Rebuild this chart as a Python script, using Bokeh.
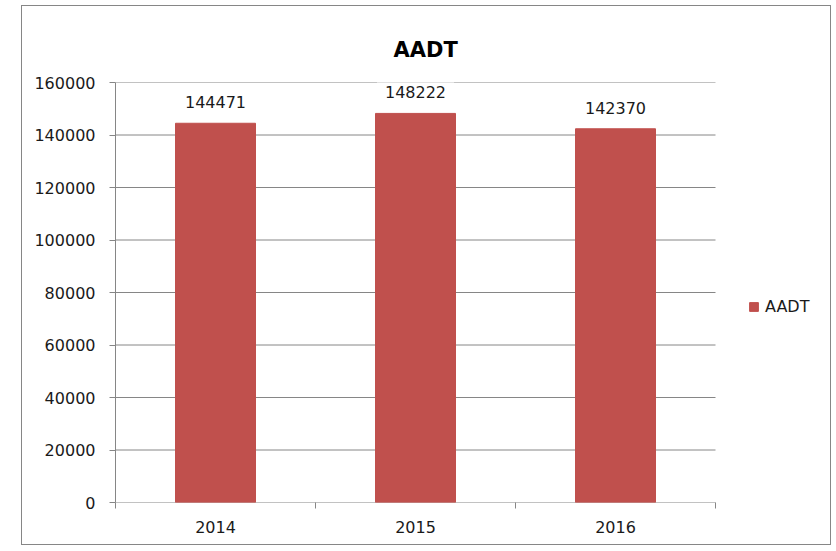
from bokeh.plotting import figure
from bokeh.models import (FixedTicker, Range1d, Legend, LegendItem, ColumnDataSource,
                          NumeralTickFormatter)
from bokeh.core.properties import value
from bokeh.embed import file_html
from bokeh.resources import INLINE

years = ["2014", "2015", "2016"]
aadt = [144471, 148222, 142370]
y_ticks = [0, 20000, 40000, 60000, 80000, 100000, 120000, 140000, 160000]

FONT = "DejaVu Sans"
GRAY = "#868686"
TXT = "#1a1a1a"
BAR = "#C0504D"
FS = "16px"

# layout: plot area is 600px wide for the categories, the frame continues
# to the right edge so that the legend can sit inside it
W, LEFT, PLOT_W = 810, 93, 600
x_end = len(years) * (W - LEFT) / PLOT_W

xs = [i + 0.5 for i in range(len(years))]
src = ColumnDataSource(dict(x=xs, top=aadt, label=[str(v) for v in aadt]))
grid_src = ColumnDataSource(dict(x0=[0] * len(y_ticks), x1=[len(years)] * len(y_ticks),
                                 y=y_ticks))

p = figure(width=W, height=540, output_backend="svg", toolbar_location=None,
           x_range=Range1d(0, x_end), y_range=Range1d(0, y_ticks[-1]),
           min_border_left=LEFT, min_border_right=0, min_border_top=76,
           min_border_bottom=44, title="AADT")
p.styles = {"border": "1px solid " + GRAY, "margin-left": "21px", "margin-top": "5px"}
p.outline_line_color = None
p.background_fill_color = "white"
p.border_fill_color = "white"

p.title.align = "left"
p.title.offset = 278
p.title.standoff = 42
p.title.text_font = FONT
p.title.text_font_size = "21px"
p.title.text_font_style = "bold"
p.title.text_color = "#000000"

# x axis
p.xaxis.ticker = FixedTicker(ticks=xs, minor_ticks=list(range(len(years) + 1)))
p.xaxis.major_label_overrides = {x: y for x, y in zip(xs, years)}
p.xaxis.major_tick_line_color = None
p.xaxis.major_tick_out = 6
p.xaxis.major_tick_in = 0
p.xaxis.minor_tick_line_color = GRAY
p.xaxis.minor_tick_out = 6
p.xaxis.minor_tick_in = 0
p.xaxis.axis_line_color = None
p.xaxis.major_label_standoff = 12
p.xaxis.major_label_text_font = FONT
p.xaxis.major_label_text_font_size = FS
p.xaxis.major_label_text_color = TXT

# y axis
p.yaxis.ticker = FixedTicker(ticks=y_ticks, minor_ticks=[])
p.yaxis.formatter = NumeralTickFormatter(format="0")
p.yaxis.major_tick_line_color = GRAY
p.yaxis.major_tick_out = 6
p.yaxis.major_tick_in = 0
p.yaxis.minor_tick_line_color = None
p.yaxis.axis_line_color = GRAY
p.yaxis.major_label_standoff = 14
p.yaxis.major_label_text_font = FONT
p.yaxis.major_label_text_font_size = FS
p.yaxis.major_label_text_color = TXT

p.xgrid.grid_line_color = None
p.ygrid.grid_line_color = None

# horizontal gridlines (and the category axis line at 0) over the category span
p.segment(x0="x0", x1="x1", y0="y", y1="y", source=grid_src,
          line_color=GRAY, line_width=1)

bars = p.vbar(x="x", top="top", width=0.4, source=src, fill_color=BAR, line_color=BAR)

p.text(x="x", y="top", text="label", source=src, text_align="center",
       text_baseline="middle", y_offset=-21, text_font=value(FONT),
       text_font_size=FS, text_color=TXT, background_fill_color="white",
       padding=8)

legend = Legend(items=[LegendItem(label="AADT", renderers=[bars])],
                location=(633, 186), padding=0, margin=0, spacing=0,
                glyph_width=11, glyph_height=11, label_standoff=6,
                label_text_font=FONT, label_text_font_size=FS,
                label_text_color=TXT, border_line_color=None,
                background_fill_alpha=0)
p.add_layout(legend)

open("out.html", "w").write(file_html(p, INLINE))
